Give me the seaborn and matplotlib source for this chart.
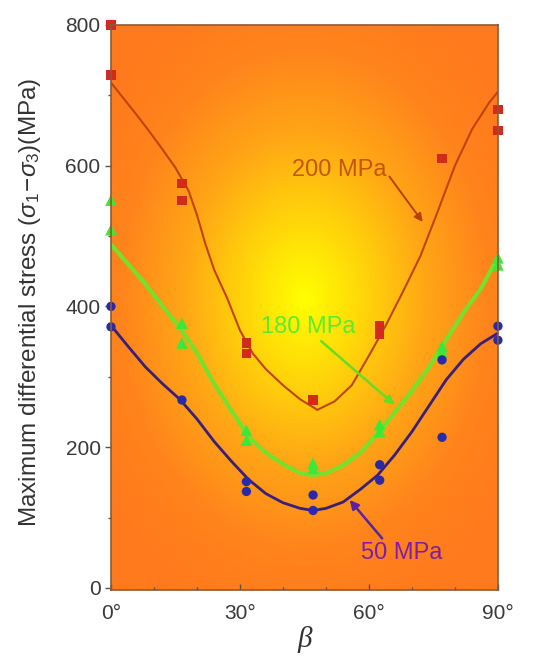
import numpy as np
import pandas as pd
import matplotlib
matplotlib.use("Agg")
import matplotlib.pyplot as plt
from matplotlib.colors import LinearSegmentedColormap
import seaborn as sns

# Measured peak differential stress versus bedding angle β (deg, MPa)
beta_200 = [0, 0, 16.5, 16.5, 31.5, 31.5, 47, 62.5, 62.5, 77, 90, 90]
stress_200 = [800, 729, 575, 551, 348, 333, 267, 372, 360, 610, 680, 650]

beta_180 = [0, 0, 16.5, 16.5, 31.5, 31.5, 47, 47, 62.5, 62.5, 77, 77, 90, 90]
stress_180 = [551, 509, 376, 348, 224, 210, 177, 170, 232, 222, 343, 335, 469, 459]

beta_50 = [0, 0, 16.5, 31.5, 31.5, 47, 47, 62.5, 62.5, 77, 77, 90, 90]
stress_50 = [400, 371, 267, 151, 137, 132, 110, 175, 153, 324, 214, 372, 352]

# Fitted trend curves
fit_beta_200 = [0, 3, 6, 9, 12, 15, 18, 20, 22, 24, 27, 30, 33, 36, 40, 44, 48,
                52, 56, 60, 64, 68, 72, 76, 80, 84, 88, 90]
fit_200 = [718, 695, 672, 648, 623, 597, 565, 530, 488, 452, 412, 366, 333, 311,
           288, 268, 253, 265, 288, 330, 374, 422, 472, 535, 600, 652, 690, 705]

fit_beta = [0, 4, 8, 12, 16, 20, 24, 28, 32, 36, 40, 44, 47, 50, 54, 58, 62, 66,
            70, 74, 78, 82, 86, 90]
fit_180 = [488, 460, 432, 400, 370, 334, 290, 252, 215, 192, 176, 163, 160, 163,
           174, 192, 219, 249, 280, 314, 353, 391, 425, 470]
fit_50 = [373, 343, 314, 290, 268, 240, 208, 180, 154, 134, 121, 113, 110, 113,
          122, 140, 160, 189, 222, 259, 296, 325, 347, 362]

x_ticks = [0, 30, 60, 90]
x_ticklabels = ["0°", "30°", "60°", "90°"]
y_ticks = [0, 200, 400, 600, 800]

pts = pd.concat([
    pd.DataFrame({"beta": beta_200, "stress": stress_200, "confining": "200 MPa"}),
    pd.DataFrame({"beta": beta_180, "stress": stress_180, "confining": "180 MPa"}),
    pd.DataFrame({"beta": beta_50, "stress": stress_50, "confining": "50 MPa"}),
])
fits = pd.concat([
    pd.DataFrame({"beta": fit_beta_200, "stress": fit_200, "confining": "200 MPa"}),
    pd.DataFrame({"beta": fit_beta, "stress": fit_180, "confining": "180 MPa"}),
    pd.DataFrame({"beta": fit_beta, "stress": fit_50, "confining": "50 MPa"}),
])

sns.set_theme(style="ticks")
plt.rcParams["font.family"] = ["Liberation Sans", "DejaVu Sans"]
plt.rcParams["mathtext.fontset"] = "custom"
plt.rcParams["mathtext.rm"] = "Liberation Sans"
plt.rcParams["mathtext.it"] = "Liberation Sans:italic"

fig = plt.figure(figsize=(5.43, 6.57), dpi=100)
ax = fig.add_axes([0.2044, 0.102, 0.7126, 0.860])

xmin, xmax, ymin, ymax = 0, 90, -3, 800

# Radial yellow-to-orange backdrop
gx, gy = np.meshgrid(np.linspace(xmin, xmax, 300), np.linspace(ymin, ymax, 400))
r = np.sqrt(((gx - 45) / 52) ** 2 + ((gy - 410) / 430) ** 2)
bg_cmap = LinearSegmentedColormap.from_list(
    "bg", ["#ffff00", "#ffd40a", "#ffa516", "#ff841c", "#ff7a1c"])
ax.imshow(np.clip(r, 0, 1.1), cmap=bg_cmap, vmin=0, vmax=1.1, origin="lower",
          extent=[xmin, xmax, ymin, ymax], aspect="auto", zorder=0,
          interpolation="bilinear")

line_colors = {"200 MPa": "#c0440c", "180 MPa": "#77e02a", "50 MPa": "#3a1f7a"}
line_widths = {"200 MPa": 1.5, "180 MPa": 3.0, "50 MPa": 2.0}
for key, grp in fits.groupby("confining"):
    sns.lineplot(data=grp, x="beta", y="stress", color=line_colors[key],
                 linewidth=line_widths[key], ax=ax, zorder=2, sort=True)

mk_colors = {"200 MPa": "#d42a1e", "180 MPa": "#3ae83a", "50 MPa": "#2a2aa8"}
mk_shapes = {"200 MPa": "s", "180 MPa": "^", "50 MPa": "o"}
mk_sizes = {"200 MPa": 45, "180 MPa": 70, "50 MPa": 45}
for key, grp in pts.groupby("confining"):
    sns.scatterplot(data=grp, x="beta", y="stress", color=mk_colors[key],
                    marker=mk_shapes[key], s=mk_sizes[key], edgecolor="none",
                    ax=ax, zorder=3, clip_on=False, legend=False)

# Curve labels with pointers
ax.annotate("200 MPa", xy=(72.5, 520), xytext=(64.0, 594), color="#c4560c",
            fontsize=17, ha="right", va="center",
            arrowprops=dict(arrowstyle="-|>", color="#b8400c", lw=1.4,
                            mutation_scale=12, shrinkA=0, shrinkB=0,
                            relpos=(1.0, 0.4)))
ax.annotate("180 MPa", xy=(66.0, 260), xytext=(45.8, 371), color="#5cec2a",
            fontsize=17, ha="center", va="center",
            arrowprops=dict(arrowstyle="-|>", color="#66dd22", lw=1.8,
                            mutation_scale=13, shrinkA=0, shrinkB=0,
                            relpos=(0.6, 0.0)))
ax.annotate("50 MPa", xy=(55.5, 125), xytext=(67.5, 50), color="#7e1ea6",
            fontsize=17, ha="center", va="center",
            arrowprops=dict(arrowstyle="-|>", color="#5a22a0", lw=1.8,
                            mutation_scale=13, shrinkA=0, shrinkB=0,
                            relpos=(0.3, 1.0)))

ax.set_xlim(xmin, xmax)
ax.set_ylim(ymin, ymax)
ax.set_xticks(x_ticks)
ax.set_xticklabels(x_ticklabels)
ax.set_yticks(y_ticks)
ax.set_xticks([10, 20, 40, 50, 70, 80], minor=True)
ax.set_yticks([100, 300, 500, 700], minor=True)
ax.tick_params(axis="both", which="major", labelsize=15, labelcolor="#3a3a3a",
               color="#555555", length=4, width=1)
ax.tick_params(axis="x", which="both", direction="in")
ax.tick_params(axis="x", which="major", pad=10)
ax.tick_params(axis="y", which="both", direction="out")
ax.tick_params(axis="both", which="minor", length=2.5, color="#555555")

ax.set_xlabel("β", fontsize=21, fontstyle="italic", family="Liberation Serif",
              color="#333333", labelpad=2)
ax.set_ylabel(r"Maximum differential stress ($\sigma_1\!-\!\sigma_3$)(MPa)",
              fontsize=17.5, color="#333333")
ax.yaxis.set_label_coords(-0.175, 0.51)

for side in ["left", "right", "top", "bottom"]:
    ax.spines[side].set_visible(True)
    ax.spines[side].set_color("#8a5a3a")
    ax.spines[side].set_linewidth(1.2)
    ax.spines[side].set_zorder(4)

fig.savefig("out.png", dpi=100)
